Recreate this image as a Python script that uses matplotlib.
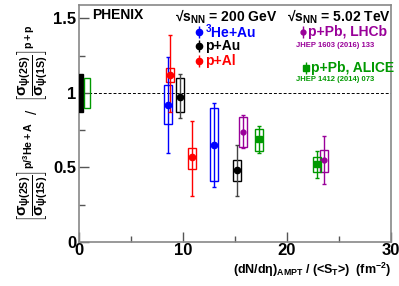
import numpy as np
import matplotlib.pyplot as plt
from matplotlib.patches import Rectangle

plt.rcParams['font.family'] = ['Liberation Sans', 'DejaVu Sans']
plt.rcParams['font.weight'] = 'bold'
plt.rcParams['mathtext.fontset'] = 'custom'
plt.rcParams['mathtext.rm'] = 'Liberation Sans:bold'
plt.rcParams['mathtext.it'] = 'Liberation Sans:bold'
plt.rcParams['mathtext.bf'] = 'Liberation Sans:bold'
plt.rcParams['mathtext.sf'] = 'Liberation Sans:bold'

# PHENIX 3He+Au
heau_x = [8.56, 12.98]
heau_y = [0.92, 0.65]
heau_stat = [(0.32, 0.32), (0.28, 0.28)]     # (down, up)
heau_sys = [(0.79, 1.05), (0.41, 0.90)]      # (low, high)

# PHENIX p+Au
pau_x = [9.71, 15.2]
pau_y = [0.97, 0.48]
pau_stat = [(0.14, 0.16), (0.17, 0.17)]
pau_sys = [(0.87, 1.10), (0.41, 0.55)]

# PHENIX p+Al
pal_x = [8.75, 10.83]
pal_y = [1.12, 0.57]
pal_stat = [(0.25, 0.27), (0.26, 0.24)]
pal_sys = [(1.07, 1.17), (0.49, 0.63)]

# LHCb p+Pb
lhcb_x = [15.8, 23.55]
lhcb_y = [0.74, 0.55]
lhcb_stat = [(0.11, 0.11), (0.16, 0.16)]
lhcb_sys = [(0.64, 0.84), (0.47, 0.62)]

# ALICE p+Pb
alice_x = [17.3, 22.9]
alice_y = [0.69, 0.52]
alice_stat = [(0.09, 0.09), (0.09, 0.09)]
alice_sys = [(0.61, 0.76), (0.47, 0.57)]

# global uncertainties at x=0
glob_phenix = (0.87, 1.13)
glob_alice = (0.90, 1.10)

blue = '#0000ff'
red = '#ff0000'
black = '#000000'
purple = '#990099'
green = '#009900'

fig = plt.figure(figsize=(3.99, 2.86), dpi=100)
ax = fig.add_axes([0.198, 0.154, 0.782, 0.8285])


def draw_set(xs, ys, stat, sys, color, marker, ms, ecolor=None, bw=0.75):
    for x, y, (dn, up), (lo, hi) in zip(xs, ys, stat, sys):
        ax.add_patch(Rectangle((x - bw / 2, lo), bw, hi - lo, fill=False,
                               edgecolor=color, lw=1.0, zorder=3))
        ax.errorbar([x], [y], yerr=[[dn], [up]], fmt=marker, color=color,
                    ecolor=ecolor or color, ms=ms, elinewidth=1.0,
                    capsize=1.2, capthick=1.0, zorder=4)


draw_set(heau_x, heau_y, heau_stat, heau_sys, blue, 'o', 4.5)
draw_set(pal_x, pal_y, pal_stat, pal_sys, red, 'o', 4.5)
draw_set(pau_x, pau_y, pau_stat, pau_sys, black, 'o', 4.5, ecolor='#444444')
draw_set(lhcb_x, lhcb_y, lhcb_stat, lhcb_sys, purple, 'o', 3.5)
draw_set(alice_x, alice_y, alice_stat, alice_sys, green, 's', 4.5)

ax.add_patch(Rectangle((0, glob_phenix[0]), 0.4, glob_phenix[1] - glob_phenix[0],
                       facecolor='black', edgecolor='black', zorder=3))
ax.add_patch(Rectangle((0.5, glob_alice[0]), 0.6, glob_alice[1] - glob_alice[0],
                       fill=False, edgecolor=green, lw=1.0, zorder=3))

ax.axhline(1.0, color='black', lw=0.7, ls=(0, (3, 2)), zorder=1)

ax.set_xlim(0, 30)
ax.set_ylim(0, 1.59)
ax.set_xticks([0, 10, 20, 30])
ax.set_xticks([5, 15, 25], minor=True)
ax.set_yticks([0, 0.5, 1, 1.5])
ax.set_yticklabels(['0', '0.5', '1', '1.5'])
ax.set_yticks([0.25, 0.75, 1.25], minor=True)
ax.tick_params(which='both', direction='in', color='#555555', labelsize=12)
ax.tick_params(which='major', length=7, width=1.0)
ax.tick_params(which='minor', length=4, width=1.0)
ax.tick_params(axis='x', pad=1)
ax.tick_params(axis='y', pad=2)
for s in ax.spines.values():
    s.set_color('#888888')
    s.set_linewidth(1.2)

ax.set_xlabel(r'(dN/d$\eta$)$_{AMPT}$ / (<S$_T$>)  (fm$^{-2}$)',
              fontsize=9, fontweight='bold', loc='right', labelpad=2)
ax.set_ylabel(r'$\left[\dfrac{\sigma_{\psi(2S)}}{\sigma_{\psi(1S)}}\right]^{p/^{3}He+A}$'
              r'  /  $\left[\dfrac{\sigma_{\psi(2S)}}{\sigma_{\psi(1S)}}\right]^{p+p}$',
              fontsize=11, labelpad=2)

# legend / labels
ax.text(0.042, 0.988, 'PHENIX', transform=ax.transAxes, fontsize=10, va='top')
ax.text(0.308, 0.988, r'√$\mathregular{s_{NN}}$ = 200 GeV', transform=ax.transAxes,
        fontsize=10, va='top')
ax.text(0.668, 0.988, r'√$\mathregular{s_{NN}}$ = 5.02 TeV', transform=ax.transAxes,
        fontsize=10, va='top')

leg = [(blue, 'o', r'$^{3}$He+Au', 0.385, 0.404, 0.886),
       (black, 'o', 'p+Au', 0.385, 0.404, 0.827),
       (red, 'o', 'p+Al', 0.385, 0.404, 0.764)]
for c, m, lab, mx, tx, ty in leg:
    ax.errorbar([mx], [ty], yerr=0.025, fmt=m, color=c, ms=4.5, elinewidth=1.0,
                transform=ax.transAxes, clip_on=False)
    ax.text(tx, ty, lab, color=c, transform=ax.transAxes, fontsize=10, va='center')

ax.errorbar([0.717], [0.886], yerr=0.025, fmt='o', color=purple, ms=3.5,
            elinewidth=1.0, transform=ax.transAxes, clip_on=False)
ax.text(0.733, 0.886, 'p+Pb, LHCb', color=purple, transform=ax.transAxes,
        fontsize=10, va='center')
ax.text(0.695, 0.831, 'JHEP 1603 (2016) 133', color=purple, transform=ax.transAxes,
        fontsize=5.5, va='center')
ax.errorbar([0.726], [0.734], yerr=0.025, fmt='s', color=green, ms=4.5,
            elinewidth=1.0, transform=ax.transAxes, clip_on=False)
ax.text(0.744, 0.734, 'p+Pb, ALICE', color=green, transform=ax.transAxes,
        fontsize=10, va='center')
ax.text(0.695, 0.684, 'JHEP 1412 (2014) 073', color=green, transform=ax.transAxes,
        fontsize=5.5, va='center')

fig.savefig('out.png', dpi=100)
